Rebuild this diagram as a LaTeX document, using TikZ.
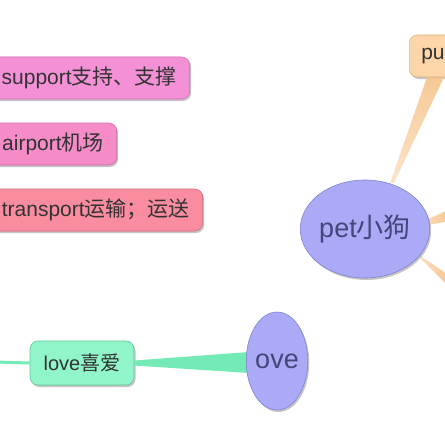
\documentclass[tikz,border=0pt]{standalone}
\usepackage{fontspec}
\setmainfont{Liberation Sans}
\newfontfamily\cjk{Noto Sans CJK SC}
\usetikzlibrary{shapes.geometric,shadows,calc}
\definecolor{supfill}{HTML}{F490D6}
\definecolor{supdraw}{HTML}{D070B4}
\definecolor{airfill}{HTML}{F58CC8}
\definecolor{airdraw}{HTML}{D26CA6}
\definecolor{trfill}{HTML}{F98C9E}
\definecolor{trdraw}{HTML}{D86C80}
\definecolor{pufill}{HTML}{FCD5A8}
\definecolor{pudraw}{HTML}{DDB07E}
\definecolor{lovefill}{HTML}{90F5C8}
\definecolor{lovedraw}{HTML}{62C898}
\definecolor{elfill}{HTML}{AAAAF7}
\definecolor{eldraw}{HTML}{8282D2}
\definecolor{boxtext}{HTML}{333333}
\definecolor{eltext}{HTML}{45457A}
\definecolor{peach}{HTML}{F6C48C}
\definecolor{peachlight}{HTML}{FBE2C4}
\definecolor{mint}{HTML}{74EAB6}
\tikzset{
  shad/.style={drop shadow={shadow xshift=1.5pt,shadow yshift=-2pt,opacity=0.45,fill=gray}},
  wordbox/.style={shad,rounded corners=8pt,minimum height=42pt,inner xsep=13pt,
    text=boxtext,font=\fontsize{21}{25}\selectfont,line width=0.6pt},
  bubble/.style={shad,ellipse,fill=elfill,draw=eldraw,line width=0.6pt,inner sep=0pt,
    text=eltext,font=\fontsize{27}{31}\selectfont}
}
\begin{document}
\begin{tikzpicture}[x=1pt,y=-1pt]
\useasboundingbox[fill=white] (0,0) rectangle (444,444);
\coordinate (pet0) at (365,229);
\coordinate (r1a) at (450,209);
\coordinate (r1b) at (450,221);
\coordinate (r2a) at (450,276);
\coordinate (r2b) at (450,288);
\coordinate (lft) at (-5,362);

\node[wordbox,fill=supfill,draw=supdraw,anchor=east] (support) at (190,78) {support{\cjk 支持、支撑}};
\node[wordbox,fill=airfill,draw=airdraw,anchor=east] (airport) at (117,144) {airport{\cjk 机场}};
\node[wordbox,fill=trfill,draw=trdraw,anchor=east] (transport) at (203,210) {transport{\cjk 运输；运送}};
\node[wordbox,fill=pufill,draw=pudraw,anchor=west,minimum width=70pt,align=left,text width=46pt,inner xsep=10.5pt] (pu) at (409,56) {pu};

% wedges
\shade[top color=peach,bottom color=peachlight,opacity=0.9]
  ($(pu.south west)+(18,0)$) -- ($(pu.south west)+(35,0)$) -- (394,183) -- (390,183) -- cycle;
\shade[left color=peachlight,right color=peach]
  (422,222) -- (r1a) -- (r1b) -- (422,226) -- cycle;
\shade[left color=peachlight,right color=peach]
  (419,255) -- (r2a) -- (r2b) -- (421,259) -- cycle;

\node[bubble,minimum width=120pt,minimum height=98pt] (pet) at (pet0) {pet{\cjk 小狗}};

\node[wordbox,fill=lovefill,draw=lovedraw,minimum width=104pt,minimum height=44pt,inner xsep=6pt,font=\fontsize{20}{24}\selectfont] (love) at (82,363) {love{\cjk 喜爱}};
\draw[mint,line width=3pt] (lft) -- (love.west);
\fill[mint] ($(love.east)+(0,-2.5)$) -- ($(love.east)+(115,-11)$) -- ($(love.east)+(115,10)$) -- ($(love.east)+(0,2.5)$) -- cycle;
\node[bubble,minimum width=60pt,minimum height=98pt] (ove) at (277,361) {ove};
\end{tikzpicture}
\end{document}
